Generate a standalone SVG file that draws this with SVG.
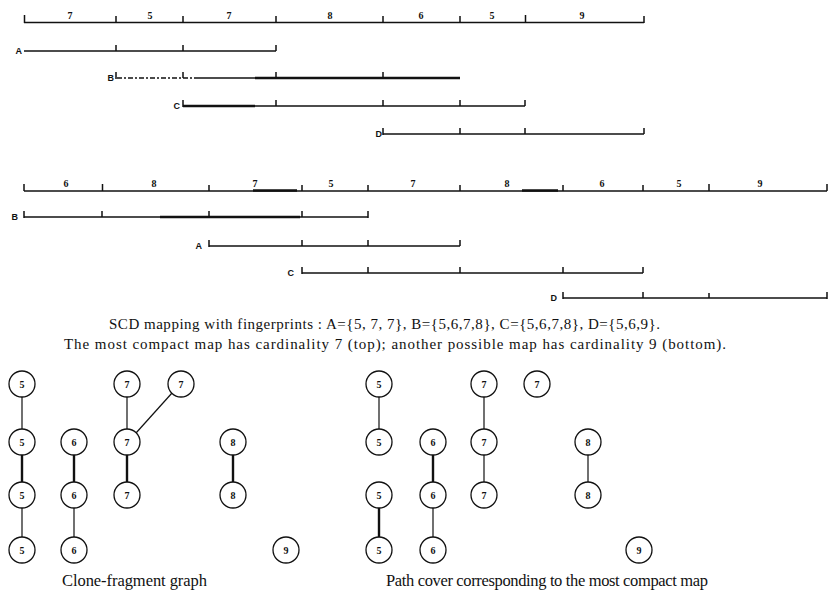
<svg xmlns="http://www.w3.org/2000/svg" width="828" height="597" viewBox="0 0 828 597">
<defs>
<style>
.bg{fill:#fff}
.ln{stroke:#111;stroke-width:1.3;fill:none}
.thk{stroke:#111;stroke-width:2.4;fill:none}
.dsh{stroke:#111;stroke-width:1.5;fill:none;stroke-dasharray:5 2 2 2}
.tk{stroke:#111;stroke-width:1.5}
.sc{font-family:"Liberation Serif",serif;font-weight:bold;font-size:10px;fill:#111;text-anchor:middle}
.lb{font-family:"Liberation Sans",sans-serif;font-weight:bold;font-size:9px;fill:#111;text-anchor:end}
.cap{font-family:"Liberation Serif",serif;font-size:15px;fill:#111}
.cap2{font-family:"Liberation Serif",serif;font-size:16.5px;fill:#111}
.nd circle{fill:#fff;stroke:#111;stroke-width:1.3}
.nd text{font-family:"Liberation Serif",serif;font-weight:bold;font-size:10px;fill:#111;text-anchor:middle}
.e{stroke:#111;stroke-width:1.2}
.et{stroke:#111;stroke-width:2.4}
</style>
</defs>
<rect class="bg" width="828" height="597"/>

<!-- top scale -->
<g id="topScale">
<line class="ln" x1="24" y1="22.5" x2="644" y2="22.5"/>
<path class="tk" d="M24.5 15v8M116 16v7M183 16v7M276 16v7M383 16v7M460 16v7M525.5 15v8M644 16v7"/>
<text class="sc" x="70" y="19">7</text>
<text class="sc" x="150" y="19">5</text>
<text class="sc" x="229" y="19">7</text>
<text class="sc" x="330" y="19">8</text>
<text class="sc" x="421" y="19">6</text>
<text class="sc" x="492" y="19">5</text>
<text class="sc" x="582" y="19">9</text>
</g>
<g id="topA">
<text class="lb" x="22" y="54">A</text>
<line class="ln" x1="24" y1="51" x2="276" y2="51"/>
<path class="tk" d="M116 45v6M183 45v6M276 45v6"/>
</g>
<g id="topB">
<text class="lb" x="114" y="81">B</text>
<line class="dsh" x1="117" y1="78" x2="196" y2="78"/>
<line class="ln" x1="196" y1="78" x2="255" y2="78"/>
<line class="thk" x1="255" y1="78" x2="460" y2="78"/>
<path class="tk" d="M116 72v7M183 72v6M276 72v6M383 72v6"/>
</g>
<g id="topC">
<text class="lb" x="180" y="109">C</text>
<line class="thk" x1="183" y1="106" x2="255" y2="106"/>
<line class="ln" x1="255" y1="106" x2="525" y2="106"/>
<path class="tk" d="M183 100v7M276 100v6M383 100v6M460 100v6M525 100v6"/>
</g>
<g id="topD">
<text class="lb" x="382" y="137">D</text>
<line class="ln" x1="383" y1="134" x2="644" y2="134"/>
<path class="tk" d="M383 128v7M460 128v6M525 128v6M644 128v6"/>
</g>

<!-- bottom scale -->
<g id="bottomScale">
<line class="ln" x1="24" y1="191" x2="827" y2="191"/>
<line class="thk" x1="253" y1="190.5" x2="297" y2="190.5"/>
<line class="thk" x1="522" y1="190.5" x2="558" y2="190.5"/>
<path class="tk" d="M24 184v7M102.5 184v7M209 185v6M302 185v6M368 185v6M460 185v6M563 185v6M643 185v6M709 184v7M827 184v7"/>
<text class="sc" x="66" y="187">6</text>
<text class="sc" x="154" y="187">8</text>
<text class="sc" x="255" y="187">7</text>
<text class="sc" x="331" y="187">5</text>
<text class="sc" x="413" y="187">7</text>
<text class="sc" x="507" y="187">8</text>
<text class="sc" x="602" y="187">6</text>
<text class="sc" x="679" y="187">5</text>
<text class="sc" x="760" y="187">9</text>
</g>
<g id="bottomB">
<text class="lb" x="18" y="220">B</text>
<line class="ln" x1="24" y1="217" x2="160" y2="217"/>
<line class="thk" x1="160" y1="217" x2="300" y2="217"/>
<line class="ln" x1="300" y1="217" x2="368" y2="217"/>
<path class="tk" d="M24 211v7M102 211v6M209 211v6M302 211v6M368 211v7"/>
</g>
<g id="bottomA">
<text class="lb" x="202" y="249">A</text>
<line class="ln" x1="209" y1="246" x2="460" y2="246"/>
<path class="tk" d="M209 240v7M302 240v6M368 240v6M460 240v6"/>
</g>
<g id="bottomC">
<text class="lb" x="294" y="276">C</text>
<line class="ln" x1="302" y1="273" x2="643" y2="273"/>
<path class="tk" d="M302 267v7M368 267v6M460 267v6M563 267v6M643 267v6"/>
</g>
<g id="bottomD">
<text class="lb" x="557" y="301">D</text>
<line class="ln" x1="563" y1="298" x2="827" y2="298"/>
<path class="tk" d="M563 292v7M643 292v6M709 293v5M827 292v7"/>
</g>

<text class="cap" x="109" y="329" textLength="551">SCD mapping with fingerprints : A={5, 7, 7}, B={5,6,7,8}, C={5,6,7,8}, D={5,6,9}.</text>
<text class="cap" x="64" y="349" textLength="662">The most compact map has  cardinality  7 (top); another possible map has  cardinality 9 (bottom).</text>

<!-- connectors -->
<g id="connectors">
<line class="e" x1="22" y1="397" x2="22" y2="429"/>
<line class="et" x1="22" y1="455" x2="22" y2="482"/>
<line class="e" x1="22" y1="508" x2="22" y2="537"/>
<line class="et" x1="74" y1="455" x2="74" y2="482"/>
<line class="e" x1="74" y1="508" x2="74" y2="537"/>
<line class="e" x1="127" y1="397" x2="127" y2="429"/>
<line class="et" x1="127" y1="455" x2="127" y2="482"/>
<line class="e" x1="172" y1="393" x2="136" y2="433"/>
<line class="et" x1="233" y1="455" x2="233" y2="482"/>
<line class="e" x1="379" y1="397" x2="379" y2="429"/>
<line class="et" x1="379" y1="508" x2="379" y2="537"/>
<line class="et" x1="433" y1="455" x2="433" y2="482"/>
<line class="e" x1="433" y1="508" x2="433" y2="537"/>
<line class="e" x1="484" y1="397" x2="484" y2="429"/>
<line class="e" x1="484" y1="455" x2="484" y2="482"/>
<line class="e" x1="588" y1="455" x2="588" y2="482"/>
</g>

<!-- left graph nodes -->
<g id="L5a" class="nd"><circle cx="22" cy="384" r="13"/><text x="22" y="388">5</text></g>
<g id="L5b" class="nd"><circle cx="22" cy="442" r="13"/><text x="22" y="446">5</text></g>
<g id="L5c" class="nd"><circle cx="22" cy="495" r="13"/><text x="22" y="499">5</text></g>
<g id="L5d" class="nd"><circle cx="22" cy="550" r="13"/><text x="22" y="554">5</text></g>
<g id="L6a" class="nd"><circle cx="74" cy="442" r="13"/><text x="74" y="446">6</text></g>
<g id="L6b" class="nd"><circle cx="74" cy="495" r="13"/><text x="74" y="499">6</text></g>
<g id="L6c" class="nd"><circle cx="74" cy="550" r="13"/><text x="74" y="554">6</text></g>
<g id="L7a" class="nd"><circle cx="127" cy="384" r="13"/><text x="127" y="388">7</text></g>
<g id="L7b" class="nd"><circle cx="127" cy="442" r="13"/><text x="127" y="446">7</text></g>
<g id="L7c" class="nd"><circle cx="127" cy="495" r="13"/><text x="127" y="499">7</text></g>
<g id="L7d" class="nd"><circle cx="181" cy="384" r="13"/><text x="181" y="388">7</text></g>
<g id="L8a" class="nd"><circle cx="233" cy="442" r="13"/><text x="233" y="446">8</text></g>
<g id="L8b" class="nd"><circle cx="233" cy="495" r="13"/><text x="233" y="499">8</text></g>
<g id="L9" class="nd"><circle cx="286" cy="550" r="13"/><text x="286" y="554">9</text></g>

<!-- right graph nodes -->
<g id="R5a" class="nd"><circle cx="379" cy="384" r="13"/><text x="379" y="388">5</text></g>
<g id="R5b" class="nd"><circle cx="379" cy="442" r="13"/><text x="379" y="446">5</text></g>
<g id="R5c" class="nd"><circle cx="379" cy="495" r="13"/><text x="379" y="499">5</text></g>
<g id="R5d" class="nd"><circle cx="379" cy="550" r="13"/><text x="379" y="554">5</text></g>
<g id="R6a" class="nd"><circle cx="433" cy="442" r="13"/><text x="433" y="446">6</text></g>
<g id="R6b" class="nd"><circle cx="433" cy="495" r="13"/><text x="433" y="499">6</text></g>
<g id="R6c" class="nd"><circle cx="433" cy="550" r="13"/><text x="433" y="554">6</text></g>
<g id="R7a" class="nd"><circle cx="484" cy="384" r="13"/><text x="484" y="388">7</text></g>
<g id="R7b" class="nd"><circle cx="484" cy="442" r="13"/><text x="484" y="446">7</text></g>
<g id="R7c" class="nd"><circle cx="484" cy="495" r="13"/><text x="484" y="499">7</text></g>
<g id="R7d" class="nd"><circle cx="537" cy="384" r="13"/><text x="537" y="388">7</text></g>
<g id="R8a" class="nd"><circle cx="588" cy="442" r="13"/><text x="588" y="446">8</text></g>
<g id="R8b" class="nd"><circle cx="588" cy="495" r="13"/><text x="588" y="499">8</text></g>
<g id="R9" class="nd"><circle cx="639" cy="550" r="13"/><text x="639" y="554">9</text></g>

<text class="cap2" x="62" y="586" textLength="145">Clone-fragment graph</text>
<text class="cap2" x="386" y="586" textLength="322">Path cover corresponding to the most compact map</text>
</svg>
